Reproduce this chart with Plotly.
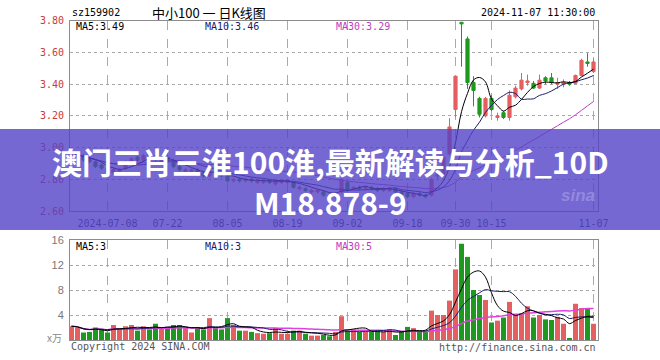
import pandas as pd
import plotly.graph_objects as go

# ---------------- data ----------------
holidays = ["2024-09-16", "2024-09-17", "2024-10-01", "2024-10-02", "2024-10-03",
            "2024-10-04", "2024-10-07"]
dates = [d.strftime("%Y-%m-%d") for d in pd.bdate_range("2024-06-28", "2024-11-07")
         if d.strftime("%Y-%m-%d") not in holidays]

opens = [2.93, 2.94, 2.95, 2.93, 2.91, 2.89, 2.87, 2.84, 2.85, 2.87,
         2.91, 2.94, 2.92, 2.96, 2.95, 2.92, 2.94, 2.92, 2.88, 2.85,
         2.85, 2.86, 2.84, 2.82, 2.85, 2.83, 2.82, 2.79, 2.80, 2.79,
         2.80, 2.78, 2.78, 2.79, 2.77, 2.78, 2.78, 2.78, 2.74, 2.74,
         2.72, 2.72, 2.72, 2.70, 2.69, 2.72, 2.78, 2.74, 2.75, 2.74,
         2.75, 2.74, 2.73, 2.73, 2.74, 2.72, 2.71, 2.69, 2.71, 2.70,
         2.70, 2.82, 2.83, 2.96, 3.24, 3.79, 3.685, 3.41, 3.31, 3.20,
         3.31, 3.19, 3.22, 3.19, 3.32, 3.37, 3.41, 3.405, 3.375, 3.44,
         3.44, 3.40, 3.40, 3.41, 3.405, 3.455, 3.54, 3.48]
highs = [2.96, 2.97, 2.96, 2.94, 2.92, 2.90, 2.88, 2.87, 2.87, 2.92,
         2.94, 2.95, 2.96, 2.97, 2.97, 2.95, 2.95, 2.93, 2.89, 2.87,
         2.87, 2.87, 2.85, 2.86, 2.86, 2.84, 2.83, 2.81, 2.81, 2.81,
         2.81, 2.80, 2.80, 2.80, 2.80, 2.80, 2.80, 2.79, 2.76, 2.75,
         2.74, 2.74, 2.73, 2.71, 2.72, 2.81, 2.79, 2.76, 2.76, 2.76,
         2.76, 2.75, 2.75, 2.75, 2.75, 2.73, 2.72, 2.72, 2.72, 2.71,
         2.81, 2.87, 2.95, 3.185, 3.45, 3.79, 3.70, 3.45, 3.32, 3.32,
         3.33, 3.22, 3.23, 3.36, 3.39, 3.47, 3.46, 3.42, 3.46, 3.45,
         3.47, 3.44, 3.43, 3.42, 3.46, 3.56, 3.595, 3.56]
lows = [2.92, 2.93, 2.91, 2.90, 2.87, 2.86, 2.83, 2.83, 2.84, 2.86,
        2.90, 2.91, 2.91, 2.93, 2.91, 2.90, 2.90, 2.87, 2.85, 2.84,
        2.84, 2.83, 2.81, 2.81, 2.83, 2.81, 2.78, 2.78, 2.78, 2.78,
        2.78, 2.77, 2.77, 2.77, 2.76, 2.77, 2.77, 2.74, 2.73, 2.72,
        2.71, 2.71, 2.69, 2.68, 2.68, 2.71, 2.73, 2.73, 2.73, 2.73,
        2.73, 2.72, 2.72, 2.72, 2.71, 2.69, 2.68, 2.68, 2.69, 2.68,
        2.69, 2.80, 2.82, 2.95, 3.19, 3.51, 3.37, 3.26, 3.19, 3.19,
        3.23, 3.17, 3.18, 3.17, 3.31, 3.36, 3.39, 3.37, 3.37, 3.40,
        3.40, 3.37, 3.38, 3.39, 3.40, 3.45, 3.51, 3.47]
closes = [2.95, 2.96, 2.92, 2.91, 2.88, 2.87, 2.84, 2.86, 2.86, 2.91,
          2.93, 2.92, 2.95, 2.94, 2.93, 2.94, 2.91, 2.88, 2.86, 2.86,
          2.86, 2.84, 2.82, 2.85, 2.84, 2.82, 2.79, 2.80, 2.79, 2.80,
          2.79, 2.79, 2.79, 2.78, 2.79, 2.79, 2.79, 2.75, 2.75, 2.73,
          2.73, 2.73, 2.70, 2.69, 2.71, 2.80, 2.74, 2.75, 2.74, 2.75,
          2.74, 2.73, 2.74, 2.74, 2.72, 2.70, 2.69, 2.71, 2.70, 2.69,
          2.80, 2.83, 2.94, 3.13, 3.45, 3.78, 3.41, 3.36, 3.21, 3.31,
          3.24, 3.20, 3.19, 3.33, 3.375, 3.425, 3.42, 3.375, 3.425, 3.42,
          3.41, 3.41, 3.41, 3.40, 3.455, 3.55, 3.53, 3.54]
volumes = [2.2, 2.0, 1.2, 1.3, 2.0, 1.7, 1.2, 2.4, 1.7, 2.2,
           2.4, 1.5, 2.2, 1.7, 2.6, 1.9, 1.9, 2.4, 2.4, 1.9,
           1.2, 1.9, 1.7, 3.5, 1.9, 1.7, 3.5, 2.4, 1.5, 1.5,
           1.3, 1.1, 1.0, 1.1, 1.9, 1.0, 1.0, 1.5, 1.5, 1.0,
           0.7, 0.7, 0.8, 0.6, 1.3, 3.8, 1.5, 1.6, 1.3, 1.3,
           1.3, 1.3, 1.3, 1.7, 0.8, 1.3, 2.1, 1.9, 1.3, 1.3,
           4.7, 4.0, 4.0, 6.3, 11.3, 15.4, 13.3, 8.0, 7.2, 6.4,
           2.8, 3.1, 3.6, 6.1, 4.0, 4.3, 5.4, 3.6, 4.0, 3.3,
           3.2, 3.7, 2.6, 0.3, 5.8, 5.1, 5.1, 2.6]

tick_dates = ["2024-07-08", "2024-07-22", "2024-08-05", "2024-08-19", "2024-09-02",
              "2024-09-18", "2024-09-30", "2024-10-15", "2024-11-07"]
tick_labels = ["2024-07-08", "07-22", "08-05", "08-19", "09-02",
               "09-18", "09-30", "10-15", "11-07"]
price_ticks = [2.6, 2.8, 3.0, 3.2, 3.4, 3.6, 3.8]
vol_ticks = [4, 8, 12, 16]
price_ma_labels = ["MA5:3.49", "MA10:3.46", "MA30:3.29"]
vol_ma_labels = ["MA5:3", "MA10:3", "MA30:5"]

# ---------------- derived ----------------
RED = "#E45F5F"
GREEN = "#1E981E"
MA5C, MA10C, MA30C = "#000000", "#1A1A6E", "#C03CC0"

cs = pd.Series(closes)
vs = pd.Series(volumes)
ma = {n: cs.rolling(n, min_periods=1).mean() for n in (5, 10, 30)}
vma = {n: vs.rolling(n, min_periods=1).mean() for n in (5, 10, 30)}
vol_colors = [RED if c >= o else GREEN for o, c in zip(opens, closes)]

W, H = 660, 360
def px(x, y):
    return x / W, 1 - y / H

fig = go.Figure()
fig.add_trace(go.Candlestick(
    x=dates, open=opens, high=highs, low=lows, close=closes,
    increasing=dict(line=dict(color=RED, width=1), fillcolor=RED),
    decreasing=dict(line=dict(color=GREEN, width=1), fillcolor=GREEN),
    whiskerwidth=0, showlegend=False, xaxis="x", yaxis="y"))
for n, col in ((30, MA30C), (10, MA10C), (5, MA5C)):
    fig.add_trace(go.Scatter(x=dates, y=ma[n], mode="lines",
                             line=dict(color=col, width=1, shape="spline", smoothing=1),
                             showlegend=False, xaxis="x", yaxis="y"))

fig.add_trace(go.Bar(x=dates, y=volumes, marker=dict(color=vol_colors, line=dict(width=0)),
                     showlegend=False, xaxis="x2", yaxis="y2"))
for n, col, w in ((30, "#E040E0", 1.5), (10, MA10C, 1), (5, MA5C, 1)):
    fig.add_trace(go.Scatter(x=dates, y=vma[n], mode="lines",
                             line=dict(color=col, width=w, shape="spline", smoothing=1),
                             showlegend=False, xaxis="x2", yaxis="y2"))

xdom = [70 / W, 598 / W]
common_x = dict(type="category", range=[-0.25, 87.75], domain=xdom,
                tickmode="array", tickvals=tick_dates,
                showgrid=True, gridcolor="#AAAAAA", griddash="dash", gridwidth=1,
                showline=True, mirror=True, linecolor="#8C8C8C", linewidth=1,
                ticks="", rangeslider=dict(visible=False), fixedrange=True)

fig.update_layout(
    width=W, height=H,
    margin=dict(l=0, r=0, t=0, b=0, autoexpand=False),
    paper_bgcolor="white", plot_bgcolor="white",
    boxgap=0.25, bargap=0.17,
    xaxis=dict(common_x, anchor="y", ticktext=tick_labels,
               tickfont=dict(family="DejaVu Sans Mono", size=10, color="#333366"),
               ticklabelstandoff=3),
    yaxis=dict(domain=[1 - 211 / H, 1 - 20.7 / H], range=[2.6, 3.8],
               tickmode="array", tickvals=price_ticks,
               ticktext=[f"{v:.2f}" for v in price_ticks],
               tickfont=dict(family="DejaVu Sans Mono", size=10, color="#C83C3C"),
               showgrid=True, gridcolor="#A8A8A8", griddash="dot",
               showline=True, mirror=True, linecolor="#8C8C8C", linewidth=1,
               ticks="", ticklen=0, ticklabelstandoff=3, zeroline=False, fixedrange=True),
    xaxis2=dict(common_x, anchor="y2", showticklabels=False),
    yaxis2=dict(domain=[1 - 340 / H, 1 - 240 / H], range=[0, 16],
                tickmode="array", tickvals=vol_ticks,
                tickfont=dict(family="Liberation Sans", size=11, color="#777777"),
                showgrid=True, gridcolor="#A8A8A8", griddash="dot",
                showline=True, mirror=True, linecolor="#8C8C8C", linewidth=1,
                ticks="", ticklen=0, ticklabelstandoff=3, zeroline=False, fixedrange=True),
)

# banner overlay
fig.add_shape(type="rect", xref="paper", yref="paper", x0=0, x1=1,
              y0=1 - 230 / H, y1=1 - 129 / H,
              fillcolor="rgba(84,66,199,0.80)", line=dict(width=0), layer="above")

MONO = "DejaVu Sans Mono"
def note(text, x, y, xa="left", ya="middle", size=10, color="#000", family=MONO):
    ax, ay = px(x, y)
    fig.add_annotation(text=text, x=ax, y=ay, xref="paper", yref="paper",
                       xanchor=xa, yanchor=ya, showarrow=False,
                       font=dict(family=family, size=size, color=color))

note("sz159902", 70, 13)
note("中小100 一 日K线图", 150, 12.5, size=13, family="Noto Sans CJK SC")
note("2024-11-07 11:30:00", 597, 12.7, xa="right")
for lab, xx, col in zip(price_ma_labels, (74, 203, 334), (MA5C, MA10C, MA30C)):
    note(lab, xx, 26.5, color=col)
for lab, xx, col in zip(vol_ma_labels, (74, 203, 334), (MA5C, MA10C, MA30C)):
    note(lab, xx, 246.5, color=col)
note("x万", 64, 337, xa="right", size=10, color="#888888", family="Noto Sans CJK SC")
note("Copyright 2024 SINA.COM", 69, 346.5, color="#555555")
note("http://finance.sina.com.cn", 598, 347, xa="right", color="#555555")
note("<i><b>sina</b></i>", 597, 196, xa="right", size=17, color="rgba(175,165,235,0.55)",
     family="Liberation Sans")

note("<b>澳门三肖三淮100淮,最新解读与分析_10D</b>", 331, 161, xa="center", size=30,
     color="white", family="Noto Sans CJK SC")
note("<b>M18.878-9</b>", 331, 201.5, xa="center", size=30,
     color="white", family="Noto Sans CJK SC")

fig.write_html("out.html", config={"displayModeBar": False},
               post_script="document.body.style.margin='0px';document.body.style.overflow='hidden';")
